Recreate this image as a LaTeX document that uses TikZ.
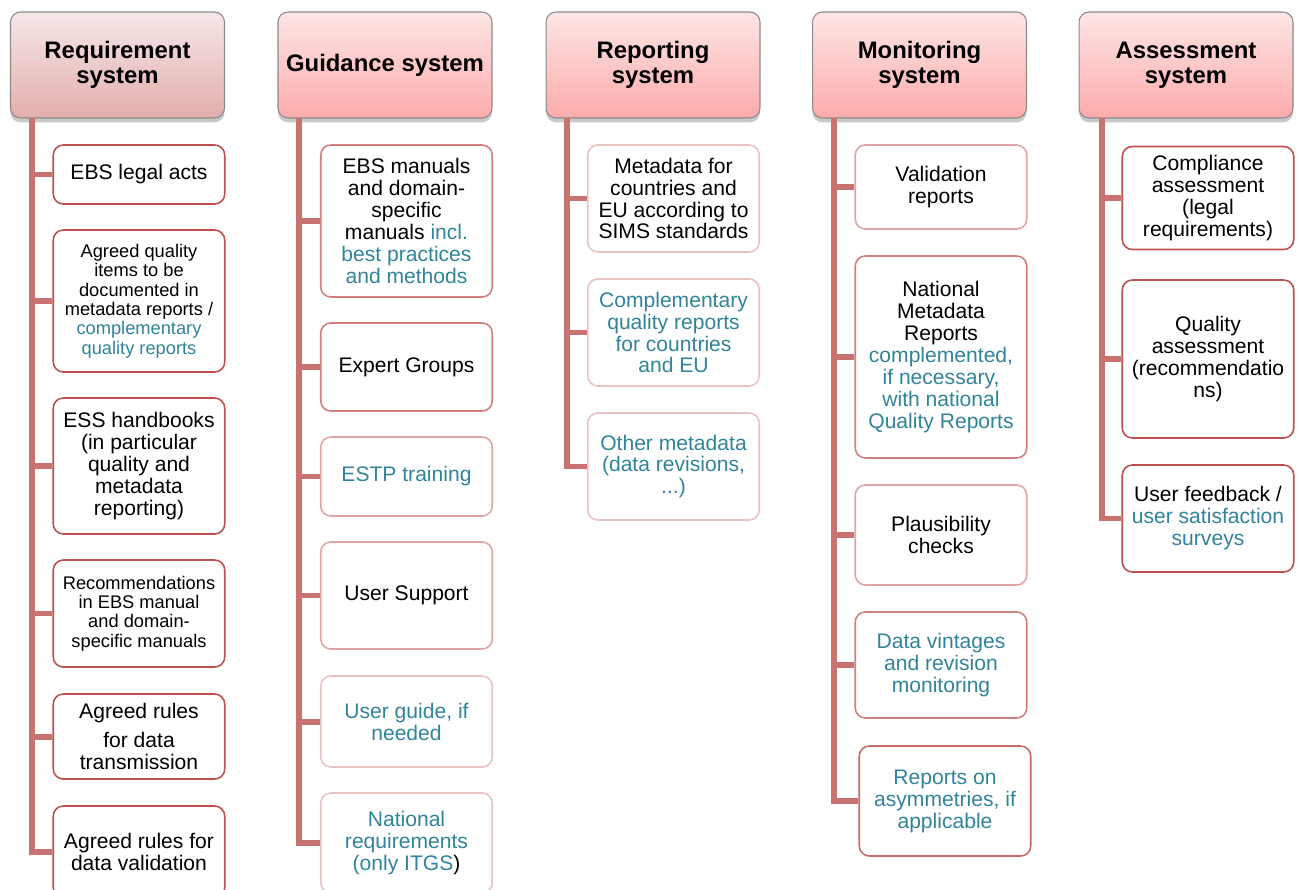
\documentclass[tikz,border=0pt]{standalone}
\usepackage{fontspec}
\setmainfont{Liberation Sans}
\usepackage{xcolor}
\usetikzlibrary{shadows}

\definecolor{trunkred}{HTML}{C87272}
\definecolor{headgray}{HTML}{8A8A8A}
\definecolor{addblue}{HTML}{31849B}
\definecolor{reqpink}{HTML}{E2AEAE}
\definecolor{headpink}{HTML}{FCABAB}
\definecolor{bdark}{HTML}{BF5050}
\definecolor{bmid}{HTML}{D07E7E}
\definecolor{blight}{HTML}{E0A4A4}
\definecolor{bpale}{HTML}{EBC2C2}
\newcommand{\addtxt}[1]{\textcolor{addblue}{#1}}

\tikzset{
  head/.style={draw=headgray, line width=0.6pt, rounded corners=0.2cm,
    minimum width=4.28cm, minimum height=2.12cm, align=center,
    top color=#1!30!white, bottom color=#1,
    font=\bfseries\fontsize{13.6}{14.2}\selectfont,
    drop shadow={shadow xshift=0pt, shadow yshift=-2.5pt, opacity=.3, fill=black!70}},
  item/.style={draw=#1, line width=0.9pt, rounded corners=0.2cm, fill=white,
    minimum width=3.43cm, align=center, inner sep=1pt,
    font=\fontsize{12}{12.5}\selectfont},
  small/.style={font=\fontsize{10.4}{11}\selectfont},
  branch/.style={draw=trunkred, line width=3.4pt}
}

\begin{document}
\begin{tikzpicture}[x=0.02cm, y=-0.02cm]

\useasboundingbox (0,0) rectangle (1300,889);

% Headers
\node[head=reqpink] (Req) at (117.5,65)  {Requirement\\system};
\node[head=headpink] (Gui) at (385,65)   {Guidance system};
\node[head=headpink] (Rep) at (653,65)   {Reporting\\system};
\node[head=headpink] (Mon) at (919.5,65) {Monitoring\\system};
\node[head=headpink] (Ass) at (1186,65)  {Assessment\\system};

% Trunk tops
\coordinate (Rt) at (32,118);    % below Requirement
\coordinate (Gt) at (299,118);   % below Guidance
\coordinate (Pt) at (567,118);   % below Reporting
\coordinate (Mt) at (834,118);   % below Monitoring
\coordinate (At) at (1102,118);  % below Assessment

% Requirement system
\node[item=bdark, minimum height=1.18cm] (R1) at (139,174.5) {EBS legal acts};
\node[item=bdark, small, minimum height=2.84cm] (R2) at (139,301)
  {Agreed quality\\items to be\\documented in\\metadata reports /\\\addtxt{complementary}\\\addtxt{quality reports}};
\node[item=bdark, minimum height=2.72cm] (R3) at (139,466)
  {ESS handbooks\\(in particular\\quality and\\metadata\\reporting)};
\node[item=bdark, small, minimum height=2.14cm] (R4) at (139,613.5)
  {Recommendations\\in EBS manual\\and domain-\\specific manuals};
\node[item=bdark, minimum height=1.70cm] (R5) at (139,736.5)
  {Agreed rules\\[4pt]for data\\transmission};
\node[item=bdark, minimum height=1.84cm] (R6) at (139,852)
  {Agreed rules for\\data validation};

% Guidance system
\node[item=bmid, minimum height=3.04cm] (G1) at (406.5,221)
  {EBS manuals\\and domain-\\specific\\manuals \addtxt{incl.}\\\addtxt{best practices}\\\addtxt{and methods}};
\node[item=bmid, minimum height=1.76cm] (G2) at (406.5,367) {Expert Groups};
\node[item=blight, minimum height=1.58cm] (G3) at (406.5,476.5) {\addtxt{ESTP training}};
\node[item=blight, minimum height=2.14cm] (G4) at (406.5,595.5) {User Support};
\node[item=bpale, minimum height=1.82cm] (G5) at (406.5,721.5)
  {\addtxt{User guide, if}\\\addtxt{needed}};
\node[item=bpale, minimum height=2.0cm] (G6) at (406.5,843)
  {\addtxt{National}\\\addtxt{requirements}\\\addtxt{(only ITGS})};

% Reporting system
\node[item=bpale, minimum height=2.14cm] (P1) at (673.5,198.5)
  {Metadata for\\countries and\\EU according to\\SIMS standards};
\node[item=bpale, minimum height=2.14cm] (P2) at (673.5,332.5)
  {\addtxt{Complementary}\\\addtxt{quality reports}\\\addtxt{for countries}\\\addtxt{and EU}};
\node[item=bpale, minimum height=2.14cm] (P3) at (673.5,466.5)
  {\addtxt{Other metadata}\\\addtxt{(data revisions,}\\\addtxt{...)}};

% Monitoring system
\node[item=blight, minimum height=1.68cm] (M1) at (941,187) {Validation\\reports};
\node[item=bmid, minimum height=4.04cm] (M2) at (941,357)
  {National\\Metadata\\Reports\\\addtxt{complemented,}\\\addtxt{if necessary,}\\\addtxt{with national}\\\addtxt{Quality Reports}};
\node[item=blight, minimum height=2.0cm] (M3) at (941,535) {Plausibility\\checks};
\node[item=bmid, minimum height=2.12cm] (M4) at (941,665)
  {\addtxt{Data vintages}\\\addtxt{and revision}\\\addtxt{monitoring}};
\node[item=bdark!85!white, minimum height=2.2cm] (M5) at (945,801)
  {\addtxt{Reports on}\\\addtxt{asymmetries, if}\\\addtxt{applicable}};

% Assessment system
\node[item=bdark, minimum height=2.06cm] (A1) at (1208,198)
  {Compliance\\assessment\\(legal\\requirements)};
\node[item=bdark, minimum height=3.16cm] (A2) at (1208,359)
  {Quality\\assessment\\(recommendatio\\ns)};
\node[item=bdark, minimum height=2.14cm] (A3) at (1208,518.5)
  {User feedback /\\\addtxt{user satisfaction}\\\addtxt{surveys}};

% Branches
\draw[branch] (Rt) |- (R1.west);
\draw[branch] (Rt) |- (R2.west);
\draw[branch] (Rt) |- (R3.west);
\draw[branch] (Rt) |- (R4.west);
\draw[branch] (Rt) |- (R5.west);
\draw[branch] (Rt) |- (R6.west);

\draw[branch] (Gt) |- (G1.west);
\draw[branch] (Gt) |- (G2.west);
\draw[branch] (Gt) |- (G3.west);
\draw[branch] (Gt) |- (G4.west);
\draw[branch] (Gt) |- (G5.west);
\draw[branch] (Gt) |- (G6.west);

\draw[branch] (Pt) |- (P1.west);
\draw[branch] (Pt) |- (P2.west);
\draw[branch] (Pt) |- (P3.west);

\draw[branch] (Mt) |- (M1.west);
\draw[branch] (Mt) |- (M2.west);
\draw[branch] (Mt) |- (M3.west);
\draw[branch] (Mt) |- (M4.west);
\draw[branch] (Mt) |- (M5.west);

\draw[branch] (At) |- (A1.west);
\draw[branch] (At) |- (A2.west);
\draw[branch] (At) |- (A3.west);

\end{tikzpicture}
\end{document}
